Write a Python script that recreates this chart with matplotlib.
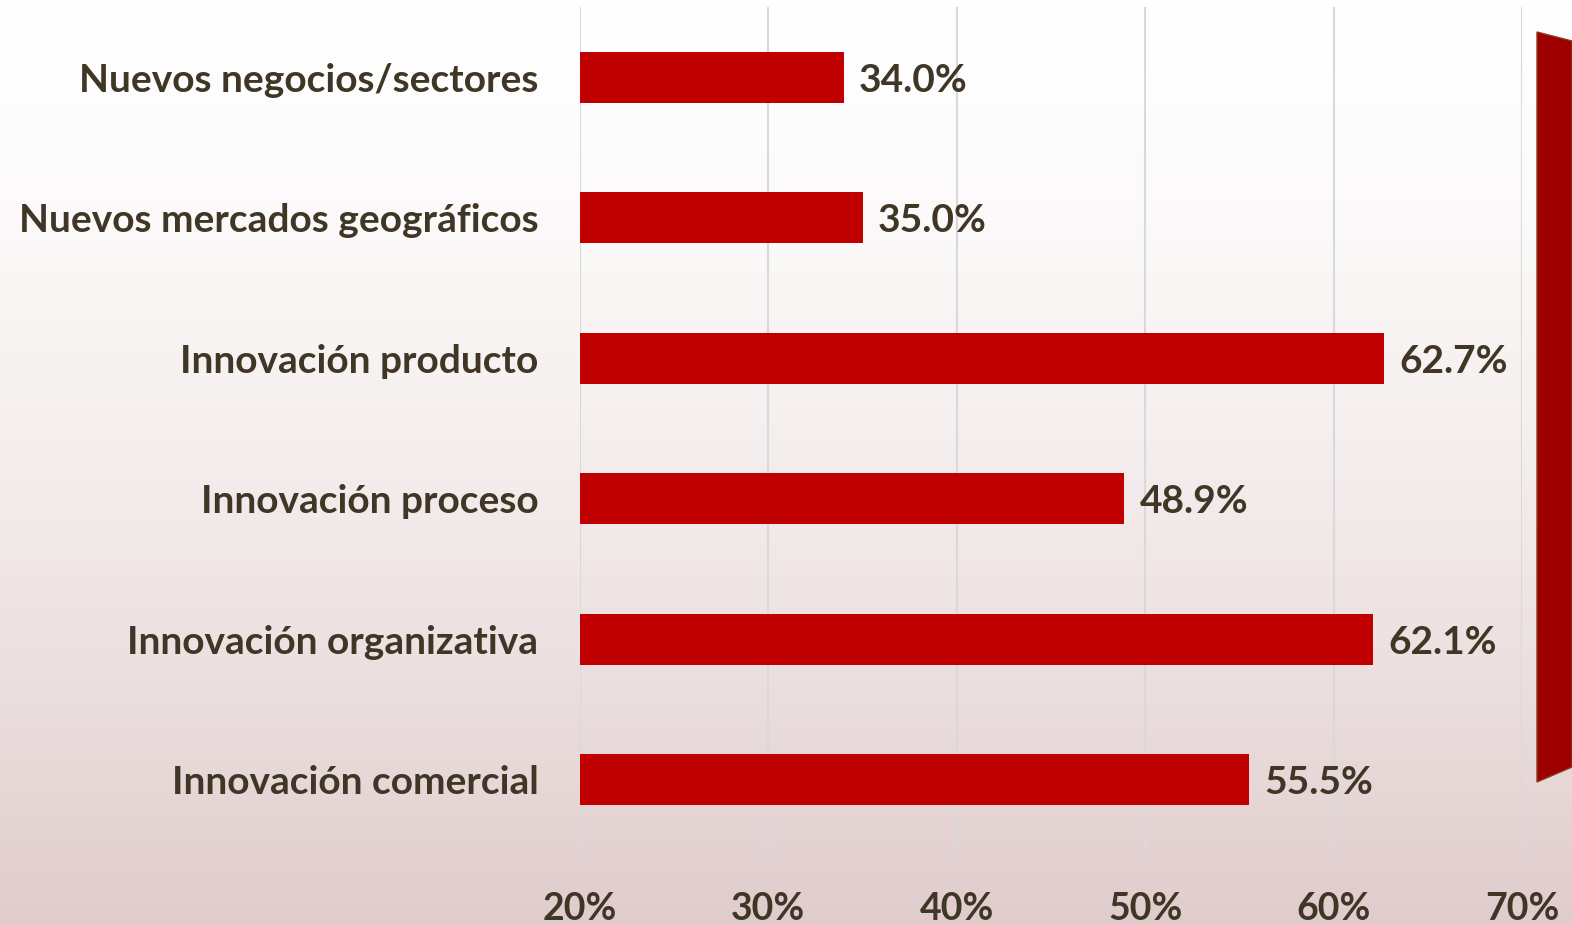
import numpy as np
import matplotlib
matplotlib.use("Agg")
import matplotlib.pyplot as plt
from matplotlib.patches import Polygon

categorias = [
    "Nuevos negocios/sectores",
    "Nuevos mercados geográficos",
    "Innovación producto",
    "Innovación proceso",
    "Innovación organizativa",
    "Innovación comercial",
]
valores = [34.0, 35.0, 62.7, 48.9, 62.1, 55.5]
ticks = [20, 30, 40, 50, 60, 70]

TXT = "#3F3626"
ROJO = "#C00000"

plt.rcParams["font.family"] = ["Lato", "DejaVu Sans"]

fig = plt.figure(figsize=(15.72, 9.25), dpi=100)

# fondo degradado blanco -> rosado
bg = fig.add_axes([0, 0, 1, 1], zorder=-10)
grad = np.linspace(0, 1, 256) ** 1.5
img = np.zeros((256, 1, 3))
top = np.array([1.0, 1.0, 1.0])
bot = np.array([0.88, 0.80, 0.80])
for i, g in enumerate(grad):
    img[i, 0] = top * (1 - g) + bot * g
bg.imshow(img, aspect="auto", extent=[0, 1, 0, 1], origin="upper")
bg.set_xlim(0, 1)
bg.set_ylim(0, 1)
bg.axis("off")

# figura roja a la derecha
forma = Polygon([(1537 / 1572, 1 - 32 / 925), (1.0, 1 - 41 / 925),
                 (1.0, 1 - 767 / 925), (1537 / 1572, 1 - 782 / 925)],
                closed=True, transform=fig.transFigure, facecolor="#9E0000",
                edgecolor="#8A3A1A", linewidth=1)
fig.patches.append(forma)

ax = fig.add_axes([580 / 1572, 75 / 925, 942 / 1572, 843 / 925])
ax.patch.set_alpha(0)
y = np.arange(len(categorias))
ax.barh(y, valores, height=0.365, color=ROJO, zorder=3)
for yi, v in zip(y, valores):
    ax.annotate(f"{v:.1f}%", (v, yi), xytext=(11, 0), textcoords="offset points",
                va="center_baseline", ha="left", fontsize=28, fontweight="bold",
                color=TXT)

ax.set_xlim(20, 70)
ax.set_ylim(len(categorias) - 0.5, -0.5)
ax.set_xticks(ticks)
ax.set_xticklabels([f"{t}%" for t in ticks])
ax.set_yticks(y)
ax.set_yticklabels(categorias)
ax.tick_params(axis="y", length=0, pad=30, labelsize=28, labelcolor=TXT)
ax.tick_params(axis="x", length=0, pad=30, labelsize=27, labelcolor=TXT)
for lab in ax.get_xticklabels() + ax.get_yticklabels():
    lab.set_fontweight("bold")
ax.grid(axis="x", color="#D9D9D9", linewidth=1.5, zorder=0)
for s in ax.spines.values():
    s.set_visible(False)

fig.savefig("out.png", dpi=100)
